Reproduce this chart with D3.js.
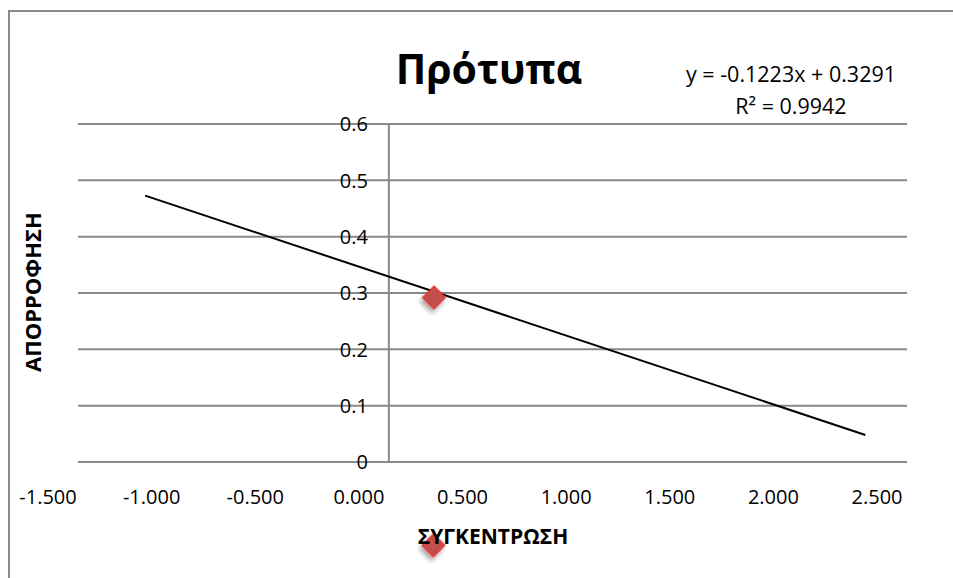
<!DOCTYPE html>
<html><head><meta charset="utf-8">
<script src="https://cdn.jsdelivr.net/npm/d3@7"></script>
<style>body{margin:0;background:#fff}svg{display:block}text{font-family:"Open Sans","Noto Sans",sans-serif}</style>
</head><body>
<svg id="c" width="953" height="578"></svg>
<script>
const titleText = "Πρότυπα";
const xTitle = "ΣΥΓΚΕΝΤΡΩΣΗ";
const yTitle = "ΑΠΟΡΡΟΦΗΣΗ";
const eqLines = ["y = -0.1223x + 0.3291", "R² = 0.9942"];
const xTicks = [-1.5, -1.0, -0.5, 0, 0.5, 1.0, 1.5, 2.0, 2.5];
const yTicks = [0, 0.1, 0.2, 0.3, 0.4, 0.5, 0.6];
const pointX = [0.218, 0.215];
const pointY = [0.292, -0.148];
const slope = -0.1223, intercept = 0.3291;
const trendRange = [-1.176, 2.299];

const loc = d3.formatLocale({decimal: ".", thousands: ",", grouping: [3], currency: ["", ""], minus: "-"});
const svg = d3.select("#c");
const x = d3.scaleLinear().domain([-1.5, 2.5]).range([78, 907]);
const y = d3.scaleLinear().domain([0, 0.6]).range([462, 124]);
const grid = "#8a8a8a";

// chart border
svg.append("rect").attr("x", 9).attr("y", 11).attr("width", 1000).attr("height", 1000)
  .attr("fill", "none").attr("stroke", grid).attr("stroke-width", 2);

// defs: shadow
const defs = svg.append("defs");
const f = defs.append("filter").attr("id", "sh").attr("x", "-50%").attr("y", "-50%").attr("width", "200%").attr("height", "200%");
f.append("feGaussianBlur").attr("in", "SourceAlpha").attr("stdDeviation", 2.5).attr("result", "b");
f.append("feOffset").attr("in", "b").attr("dx", 1).attr("dy", 4).attr("result", "o");
f.append("feComponentTransfer").attr("in", "o").attr("result", "o2")
  .append("feFuncA").attr("type", "linear").attr("slope", 0.35);
const m = f.append("feMerge");
m.append("feMergeNode").attr("in", "o2");
m.append("feMergeNode").attr("in", "SourceGraphic");

// horizontal gridlines
svg.append("g").selectAll("line").data(yTicks).join("line")
  .attr("x1", x.range()[0]).attr("x2", x.range()[1])
  .attr("y1", d => y(d)).attr("y2", d => y(d))
  .attr("stroke", grid).attr("stroke-width", 2);

// vertical axis at x=0
svg.append("line").attr("x1", x(0)).attr("x2", x(0)).attr("y1", y(0.6)).attr("y2", y(0))
  .attr("stroke", grid).attr("stroke-width", 2);

// y tick labels
svg.append("g").selectAll("text").data(yTicks).join("text")
  .attr("x", x(0) - 21).attr("y", d => y(d)).attr("dy", "0.36em")
  .attr("text-anchor", "end").attr("font-size", 20).attr("fill", "#000")
  .text(d => d === 0 ? "0" : loc.format(".1f")(d));

// x tick labels
svg.append("g").selectAll("text").data(xTicks).join("text")
  .attr("x", d => x(d) - 30).attr("y", 504)
  .attr("text-anchor", "middle").attr("font-size", 20).attr("fill", "#000")
  .text(d => loc.format(".3f")(d));

// trendline
svg.append("line")
  .attr("x1", x(trendRange[0])).attr("y1", y(slope * trendRange[0] + intercept))
  .attr("x2", x(trendRange[1])).attr("y2", y(slope * trendRange[1] + intercept))
  .attr("stroke", "#000").attr("stroke-width", 2);

// markers
const sym = d3.symbol().type(d3.symbolSquare).size(250);
svg.append("g").selectAll("path").data(pointX.map((v, i) => [v, pointY[i]])).join("path")
  .attr("d", sym)
  .attr("transform", d => `translate(${x(d[0])},${y(d[1])}) rotate(45)`)
  .attr("fill", "#c0504d").attr("stroke", "#e8322e").attr("stroke-width", 1.5)
  .attr("filter", "url(#sh)");

// title
svg.append("text").attr("x", 489).attr("y", 84).attr("text-anchor", "middle")
  .attr("font-size", 41).attr("font-weight", "bold").text(titleText);

// equation
svg.append("g").selectAll("text").data(eqLines).join("text")
  .attr("x", 791).attr("y", (d, i) => 82 + i * 32).attr("text-anchor", "middle")
  .attr("font-size", 21.5).text(d => d);

// axis titles
svg.append("text").attr("x", 493).attr("y", 544).attr("text-anchor", "middle")
  .attr("font-size", 21).attr("font-weight", "bold").text(xTitle);
svg.append("text").attr("transform", "translate(41,292) rotate(-90)").attr("text-anchor", "middle")
  .attr("font-size", 22).attr("font-weight", "bold").text(yTitle);
</script>
</body></html>
